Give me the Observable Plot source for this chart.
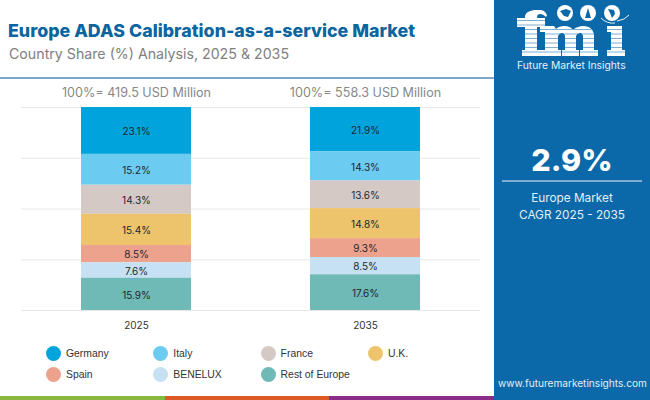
<!DOCTYPE html>
<html>
<head>
<meta charset="utf-8">
<script src="https://cdn.jsdelivr.net/npm/d3@7"></script>
<script src="https://cdn.jsdelivr.net/npm/@observablehq/plot@0.6"></script>
<style>
  html,body{margin:0;padding:0;background:#fff}
  #page{position:relative;width:650px;height:400px;overflow:hidden;font-family:Inter,sans-serif}
  #chart{position:absolute;left:0;top:0}
  #chart svg{display:block}
  .abs{position:absolute;white-space:nowrap}
  #title{left:8px;top:20px;font-size:17.8px;font-weight:800;color:#0b659f;letter-spacing:.02px}
  #subtitle{left:9px;top:45px;font-size:14.2px;color:#808080}
  #rule{left:0;top:77px;width:494px;height:2px;background:#7ba8c9}
  #panel{left:494px;top:0;width:156px;height:400px;background:#0b69a9}
  .bar{top:396px;height:4px}
  #logo{left:510px;top:0;width:130px;height:58px}
  #fmi{left:517px;top:58.5px;font-size:10.3px;color:#e6f1f8}
  #cagr{left:494px;width:156px;text-align:center;top:141px;font-size:30.5px;font-weight:800;color:#fff}
  #sep{left:502px;top:180px;width:140px;height:2px;background:#7fb0d4}
  .sub{left:494px;width:156px;text-align:center;font-size:11.8px;color:#e3eef6}
  #url{left:498px;top:377px;font-size:10.1px;color:#e3eef6}
  #legend{left:46px;top:343px;display:grid;grid-template-columns:repeat(4,107.3px);grid-auto-rows:20.8px;font:10.4px "Liberation Sans",sans-serif;color:#333}
  #legend div{display:flex;align-items:center;gap:5px}
  #legend i{display:block;width:15px;height:15px;border-radius:50%}
</style>
</head>
<body>
<div id="page">
  <div id="chart"></div>
  <div class="abs" id="title">Europe ADAS Calibration-as-a-service Market</div>
  <div class="abs" id="subtitle">Country Share (%) Analysis, 2025 &amp; 2035</div>
  <div class="abs" id="rule"></div>
  <div class="abs" id="legend"></div>
  <div class="abs bar" style="left:0;width:165px;background:#8ab83f"></div>
  <div class="abs bar" style="left:165px;width:164px;background:#dc5a28"></div>
  <div class="abs bar" style="left:329px;width:165px;background:#8a2c8a"></div>
  <div class="abs" id="panel"></div>
  <svg class="abs" id="logo" viewBox="510 0 130 58">
    <g fill="#fff">
      <path d="M525 50V27h-8v-9h8v-1c0-5 6-7 11-7h3c4 0 6 1 8 5l-1 2c-2-2-4-3-6-3-2 0-3 1-3 4h8v9h-8v23h7v6h-22v-6z"/>
      <path d="M540 26h14l2 3c3-3 7-3 9-3 3 0 6 1 8 4 3-3 7-4 10-4 7 0 11 4 11 10v14h4v6h-18v-6h3V37c0-3-1-4-3-4s-3 1-4 3v14h3v6h-17v-6h3V37c0-3-1-4-3-4s-3 1-4 3v14h3v6h-21v-6h5V32h-5z"/>
      <path d="M607 26h15v24h3v6h-18v-6h4V32h-4z"/>
      <circle cx="565" cy="13" r="8"/><circle cx="588" cy="13" r="8"/><circle cx="612" cy="13" r="8"/>
    </g>
    <g fill="#0b69a9">
      <path d="M560 11l6-2 5 2-3 6-4-1z"/><path d="M585 18l3-10 3 10z"/><path d="M608 9l6 1 1 4-3 4-2-5z"/>
    </g>
    <path d="M617 21q8-1 12-6M601 18q6 6 14 5" fill="none" stroke="#fff" stroke-width=".9"/>
    <g stroke="#6ea6d0" stroke-width=".9">
      <path d="M515 20.5H628M515 25H628M515 29.5H628M515 34H628M515 38.5H628M515 43H628M515 47.5H628M515 52H628" clip-path="url(#glyphs)"/>
    </g>
    <clipPath id="glyphs">
      <path d="M525 50V27h-8v-9h8v-1c0-5 6-7 11-7h3c4 0 6 1 8 5l-1 2c-2-2-4-3-6-3-2 0-3 1-3 4h8v9h-8v23h7v6h-22v-6z"/>
      <path d="M540 26h14l2 3c3-3 7-3 9-3 3 0 6 1 8 4 3-3 7-4 10-4 7 0 11 4 11 10v14h4v6h-18v-6h3V37c0-3-1-4-3-4s-3 1-4 3v14h3v6h-17v-6h3V37c0-3-1-4-3-4s-3 1-4 3v14h3v6h-21v-6h5V32h-5z"/>
      <path d="M607 26h15v24h3v6h-18v-6h4V32h-4z"/>
    </clipPath>
  </svg>
  <div class="abs" id="fmi">Future Market Insights</div>
  <div class="abs" id="cagr">2.9%</div>
  <div class="abs" id="sep"></div>
  <div class="abs sub" style="top:191px">Europe Market</div>
  <div class="abs sub" style="top:208px">CAGR 2025 - 2035</div>
  <div class="abs" id="url">www.futuremarketinsights.com</div>
</div>
<script>
const years = ["2025", "2035"];
const countries = ["Germany", "Italy", "France", "U.K.", "Spain", "BENELUX", "Rest of Europe"];
const share2025 = [23.1, 15.2, 14.3, 15.4, 8.5, 7.6, 15.9];
const share2035 = [21.9, 14.3, 13.6, 14.8, 9.3, 8.5, 17.6];
const totals = ["100%= 419.5 USD Million", "100%= 558.3 USD Million"];
const colors = ["#00a3dc", "#6ccbf0", "#d4c9c5", "#edc46b", "#eda28d", "#c5e1f3", "#6fb9b6"];
const gridTicks = [0, 0.25, 0.5, 0.75, 1];

const rows = [
  ...countries.map((c, i) => ({year: years[0], country: c, value: share2025[i]})),
  ...countries.map((c, i) => ({year: years[1], country: c, value: share2035[i]}))
];
const stack = {x: "year", y: "value", z: "country", offset: "normalize", order: countries};

const chart = Plot.plot({
  width: 650, height: 400,
  marginTop: 107, marginBottom: 90, marginLeft: 21, marginRight: 170,
  style: {background: "transparent", fontFamily: "Inter, sans-serif", color: "#333"},
  x: {domain: years, paddingInner: 0.52, paddingOuter: 0.262, label: null, tickSize: 0, tickPadding: 11, fontSize: 8.5},
  y: {domain: [0, 1], reverse: true, axis: null},
  color: {domain: countries, range: colors},
  marks: [
    Plot.ruleY(gridTicks, {stroke: "#e8e8e8", strokeWidth: 1}),
    Plot.barY(rows, Plot.stackY({...stack, fill: "country"})),
    Plot.text(rows, Plot.stackY({...stack, text: d => d.value.toFixed(1) + "%", fontSize: 10, dy: 1, fill: "#1c2730"})),
    Plot.text(years.map((y, i) => ({year: y, t: totals[i]})), {
      x: "year", y: () => 0, text: "t", dy: -15, fontSize: 12.6, fill: "#888"
    })
  ]
});
document.getElementById("chart").append(chart);

const legend = document.getElementById("legend");
countries.forEach((c, i) => {
  const d = document.createElement("div");
  const s = document.createElement("i");
  s.style.background = colors[i];
  d.append(s, document.createTextNode(c));
  legend.append(d);
});
</script>
</body>
</html>
